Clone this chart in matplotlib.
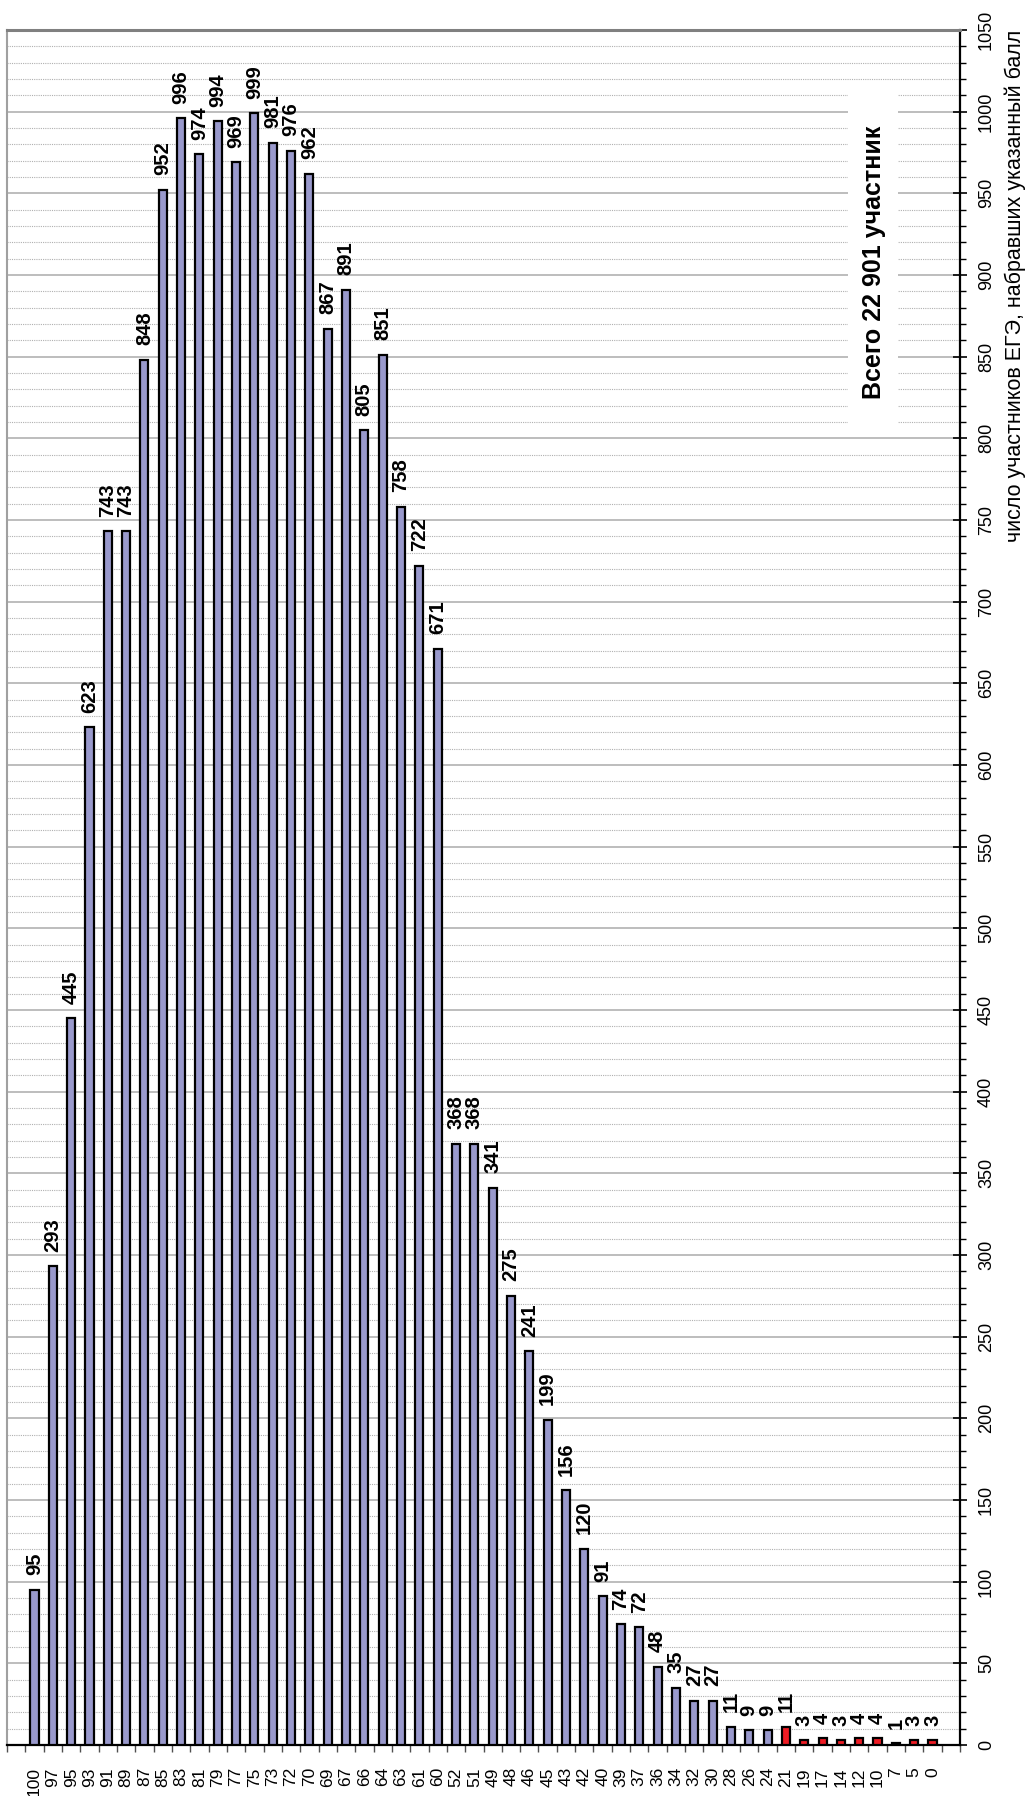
import matplotlib
matplotlib.use('Agg')
import matplotlib.pyplot as plt
from matplotlib.patches import Rectangle
from matplotlib.ticker import MultipleLocator

plt.rcParams['font.family'] = ['Liberation Sans', 'DejaVu Sans']

# баллы ЕГЭ (категории) и число участников
scores = ['100', '97', '95', '93', '91', '89', '87', '85', '83', '81',
          '79', '77', '75', '73', '72', '70', '69', '67', '66', '64',
          '63', '61', '60', '52', '51', '49', '48', '46', '45', '43',
          '42', '40', '39', '37', '36', '34', '32', '30', '28', '26',
          '24', '21', '19', '17', '14', '12', '10', '7', '5', '0']
counts = [95, 293, 445, 623, 743, 743, 848, 952, 996, 974,
          994, 969, 999, 981, 976, 962, 867, 891, 805, 851,
          758, 722, 671, 368, 368, 341, 275, 241, 199, 156,
          120, 91, 74, 72, 48, 35, 27, 27, 11, 9,
          9, 11, 3, 4, 3, 4, 4, 1, 3, 3]
min_score = 22  # ниже порога - красные столбцы
total_text = 'Всего 22 901 участник'
y_title = 'число участников ЕГЭ, набравших указанный балл'

W, H = 1031, 1796
fig = plt.figure(figsize=(W / 100, H / 100), dpi=100)
# область построения в пикселях: x 7..960, y 30..1745
ax = fig.add_axes([7 / W, (H - 1745) / H, (960 - 7) / W, (1745 - 30) / H])

x = list(range(len(scores)))
colors = ['#EE1C24' if int(s) < min_score else '#9999CC' for s in scores]
bars = ax.bar(x, counts, width=0.44, color=colors, edgecolor='black',
              linewidth=1.6, zorder=3)
ax.bar_label(bars, labels=[str(c) for c in counts], padding=10.5,
             rotation=90, fontsize=14.5, fontweight='bold', zorder=4)

ax.set_xlim(-1.5, len(scores) + 0.5)
ax.set_ylim(0, 1050)

# сетка
ax.yaxis.set_major_locator(MultipleLocator(50))
ax.yaxis.set_minor_locator(MultipleLocator(10))
ax.grid(True, which='minor', axis='y', color='#B0B0B0', lw=0.8,
        linestyle=(0, (1, 1)), zorder=0)
ax.grid(True, which='major', axis='y', color='#B8B8B8', lw=1.3,
        linestyle='-', zorder=0)
ax.set_axisbelow(True)

# белая подложка под надписью
ax.add_patch(Rectangle(((848 - 7) / 953, (1745 - 435) / 1715),
                       50 / 953, 347 / 1715, transform=ax.transAxes,
                       facecolor='white', edgecolor='none', zorder=1))
ax.text((874 - 7) / 953, (1745 - 262) / 1715, total_text,
        transform=ax.transAxes, rotation=90, ha='center', va='center',
        fontsize=18, fontweight='bold', zorder=2)

# ось значений справа
ax.yaxis.tick_right()
ax.tick_params(axis='y', which='major', direction='inout', length=10,
               width=1.2, labelsize=13, pad=8, labelrotation=90)
ax.tick_params(axis='y', which='minor', direction='out', length=4,
               width=1.0, left=False)
for lbl in ax.get_yticklabels():
    lbl.set_va('center')

# ось категорий
ax.set_xticks(x, labels=scores)
ax.set_xticks([i - 0.5 for i in range(-1, len(scores) + 2)], minor=True)
ax.tick_params(axis='x', which='major', length=0, labelsize=12.5,
               labelrotation=90, pad=16)
ax.tick_params(axis='x', which='minor', direction='out', length=5,
               width=1.0, color='#505050')

ax.spines['top'].set_color('#808080')
ax.spines['top'].set_linewidth(2.2)
ax.spines['left'].set_color('#A0A0A0')
ax.spines['left'].set_linewidth(1.5)
ax.spines['right'].set_color('black')
ax.spines['right'].set_linewidth(1.6)
ax.spines['bottom'].set_color('black')
ax.spines['bottom'].set_linewidth(1.6)

ax.text((1015 - 7) / 953, 1.0, y_title, transform=ax.transAxes,
        rotation=90, ha='center', va='top', fontsize=15.5)

fig.savefig('out.png', dpi=100, facecolor='white')
